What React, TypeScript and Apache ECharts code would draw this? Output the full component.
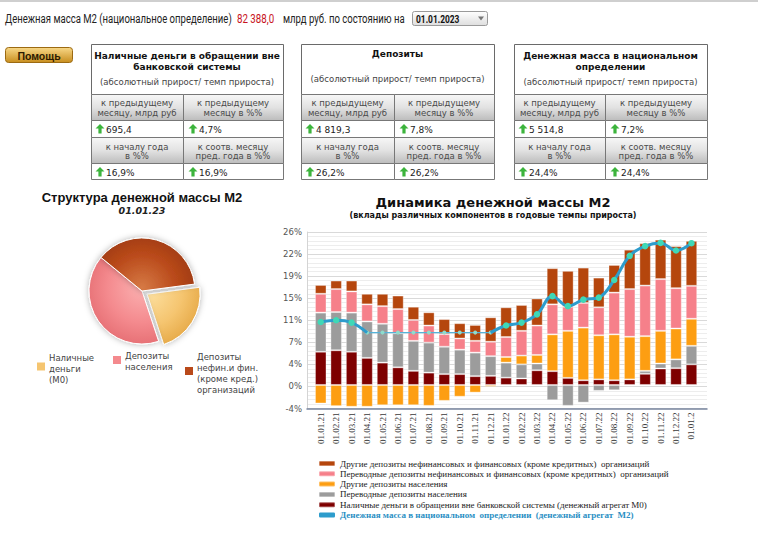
import React, { useEffect, useRef } from 'react';
import * as echarts from 'echarts';

// ---------- DATA ----------
const categories = ['01.01.21','01.02.21','01.03.21','01.04.21','01.05.21','01.06.21','01.07.21','01.08.21','01.09.21','01.10.21','01.11.21','01.12.21','01.01.22','01.02.22','01.03.22','01.04.22','01.05.22','01.06.22','01.07.22','01.08.22','01.09.22','01.10.22','01.11.22','01.12.22','01.01.2'];
const cashM0 = [5.65,5.9,5.65,4.6,3.8,3.0,2.4,2.1,1.85,1.85,1.5,1.55,1.25,1.1,2.5,2.35,1.2,0.8,0.95,0.8,0.95,1.9,2.8,2.85,3.5];
const transferHouseholds = [6.65,6.5,6.65,6.2,6.6,5.8,5.1,5.1,4.65,4.15,4.0,3.35,2.55,2.4,1.15,-2.6,-3.55,-3.0,-1.0,-0.9,0,0.5,0.85,1.5,3.15];
const otherHouseholds = [-3.15,-3.6,-3.7,-3.7,-3.45,-3.45,-3.45,-3.55,-2.7,-2.0,-1.3,-0.3,0.95,1.5,1.45,6.25,8.0,8.95,7.5,7.8,7.25,5.9,5.55,5.25,4.6];
const transferCorporate = [3.2,3.9,3.6,2.9,3.0,4.1,3.55,2.9,2.15,1.9,2.0,2.45,3.4,4.2,5.0,5.1,4.1,4.2,4.75,7.1,8.1,8.6,8.8,6.85,5.6];
const otherCorporate = [1.5,1.45,1.85,1.8,2.1,2.3,2.25,2.25,2.55,2.6,2.7,4.15,5.05,4.4,4.6,6.15,6.1,6.0,5.05,4.7,6.7,7.2,6.7,7.15,7.65];
const moneyM2 = [10.7,11.0,10.6,8.9,8.9,8.9,8.9,8.9,8.9,8.9,8.9,8.9,10.1,10.6,12.0,15.1,13.4,14.5,14.85,17.85,21.95,23.6,24.15,22.85,24.1];

const seriesNames = [
  'Другие депозиты нефинансовых и финансовых (кроме кредитных)  организаций',
  'Переводные депозиты нефинансовых и финансовых (кроме кредитных)  организаций',
  'Другие депозиты населения',
  'Переводные депозиты населения',
  'Наличные деньги в обращении вне банковской системы (денежный агрегат М0)',
  'Денежная масса в национальном  определении  (денежный агрегат  М2)',
];

const pieNames = ['Наличные деньги (М0)', 'Депозиты населения', 'Депозиты нефин.и фин. (кроме кред.) организаций'];
const pieValues = [22, 41, 37];
const pieLegendLines = [['Наличные', 'деньги', '(М0)'], ['Депозиты', 'населения'], ['Депозиты', 'нефин.и фин.', '(кроме кред.)', 'организаций']];

const tableTitles = [['Наличные деньги в обращении вне', 'банковской системы'], ['Депозиты'], ['Денежная масса в национальном', 'определении']];
const tableValues = [['695,4', '4,7%', '16,9%', '16,9%'], ['4 819,3', '7,8%', '26,2%', '26,2%'], ['5 514,8', '7,2%', '24,4%', '24,4%']];
const tableSubtitle = '(абсолютный прирост/ темп прироста)';
const tableHeads = [[['к предыдущему', 'месяцу, млрд руб'], ['к предыдущему', 'месяцу в %%']], [['к началу года', 'в %%'], ['к соотв. месяцу', 'пред. года в %%']]];

const headerTitle = 'Денежная масса М2 (национальное определение)';
const headerValue = '82 388,0';
const headerUnit = 'млрд руб. по состоянию на';
const headerDate = '01.01.2023';
const pieDate = '01.01.23';

// ---------- LAYOUT ----------
const tableBoxes = [[91, 183, 283], [301, 394, 494], [514, 605, 707]];
const pieColors = ['#f5c570', '#f48a8e', '#b9491a'];
const pieLight = ['#fde2a4', '#fbb0b0', '#d67a45'];
const pieDark = ['#e6a947', '#e66f74', '#9c3a12'];
const pieLegendPos = [[37, 366.5, 49, 358], [113, 360, 125, 356], [185, 371, 197, 357]];
const barColors = ['#b5460d', '#f6808a', '#fd9e12', '#9c9c9c', '#7e0000'];

const SANS = '"DejaVu Sans"';
const HEAD = 'Roboto';

function txt(text: string, x: number, y: number, font: string, fill: string, align = 'left', scaleX = 1) {
  return { type: 'text', x, y, scaleX, silent: true, style: { text, font, fill, textAlign: align, textVerticalAlign: 'middle' } };
}

function arrow(cx: number, cy: number) {
  return {
    type: 'polygon', silent: true,
    shape: { points: [[cx, cy - 5], [cx + 4.5, cy - 0.5], [cx + 1.6, cy - 0.5], [cx + 1.6, cy + 4.5], [cx - 1.6, cy + 4.5], [cx - 1.6, cy - 0.5], [cx - 4.5, cy - 0.5]] },
    style: { fill: '#3cb43c' },
  };
}

function buildTable(ti: number) {
  const [x0, xs, x1] = tableBoxes[ti];
  const els: any[] = [];
  const grad = () => new echarts.graphic.LinearGradient(0, 0, 0, 1, [
    { offset: 0, color: '#f7f7f7' }, { offset: 0.5, color: '#e2e2e2' }, { offset: 1, color: '#bcbcbc' },
  ]);
  els.push({ type: 'rect', silent: true, shape: { x: x0 + 0.5, y: 44.5, width: x1 - x0, height: 50 }, style: { fill: '#fff', stroke: '#6a6a6a', lineWidth: 1 } });
  const rows: [number, number, boolean][] = [[94.5, 26, true], [120.5, 17, false], [137.5, 26, true], [163.5, 16, false]];
  rows.forEach(([y, h, isHead]) => {
    [[x0, xs], [xs, x1]].forEach(([a, b]) => {
      els.push({ type: 'rect', silent: true, shape: { x: a + 0.5, y, width: b - a, height: h }, style: { fill: isHead ? grad() : '#fff', stroke: '#777', lineWidth: 1 } });
    });
  });
  const cx = (x0 + x1) / 2;
  const lines = tableTitles[ti];
  const titleY = lines.length === 2 ? [55.5, 66.5] : [54];
  lines.forEach((l, i) => els.push(txt(l, cx, titleY[i], `bold 9px ${SANS}`, '#111', 'center')));
  els.push(txt(tableSubtitle, cx, lines.length === 2 ? 82 : 79, `8.5px ${SANS}`, '#444', 'center'));
  const headY = [[103, 112.5], [146.5, 155.5]];
  tableHeads.forEach((pair, r) => {
    pair.forEach((cell, c) => {
      const ccx = c === 0 ? (x0 + xs) / 2 : (xs + x1) / 2;
      cell.forEach((l, k) => els.push(txt(l, ccx, headY[r][k], `8.5px ${SANS}`, '#4a4a4a', 'center')));
    });
  });
  const valY = [129, 172];
  tableValues[ti].forEach((v, k) => {
    const r = Math.floor(k / 2), c = k % 2;
    const ax = c === 0 ? x0 + 9 : xs + 10;
    els.push(arrow(ax, valY[r]));
    els.push(txt(v, ax + 6, valY[r] + 0.5, `9px ${SANS}`, '#222'));
  });
  return els;
}

export default function App() {
  const ref = useRef<HTMLDivElement>(null);
  useEffect(() => {
    if (!ref.current) return;
    const chart = echarts.init(ref.current, null, { renderer: 'svg' });

    const g: any[] = [];
    g.push({ type: 'line', silent: true, shape: { x1: 0, y1: 1, x2: 758, y2: 1 }, style: { stroke: '#cfcfcf', lineWidth: 2 } });
    // header
    g.push(txt(headerTitle, 5, 18.5, `13px ${HEAD}`, '#222', 'left', 0.735));
    g.push(txt(headerValue, 237, 18.5, `13px ${HEAD}`, '#c8141e', 'left', 0.75));
    g.push(txt(headerUnit, 283, 18.5, `13px ${HEAD}`, '#222', 'left', 0.735));
    g.push({ type: 'rect', silent: true, shape: { x: 412.5, y: 11.5, width: 75, height: 14, r: 2 }, style: { fill: new echarts.graphic.LinearGradient(0, 0, 0, 1, [{ offset: 0, color: '#ffffff' }, { offset: 1, color: '#dedede' }]), stroke: '#9a9a9a', lineWidth: 1 } });
    g.push(txt(headerDate, 416, 19, `bold 10.5px ${HEAD}`, '#111', 'left', 0.8));
    g.push({ type: 'polygon', silent: true, shape: { points: [[478, 16.5], [484, 16.5], [481, 20.5]] }, style: { fill: '#777' } });
    // help button
    g.push({ type: 'rect', silent: true, shape: { x: 5.5, y: 47.5, width: 67, height: 15, r: 3 }, style: { fill: new echarts.graphic.LinearGradient(0, 0, 0, 1, [{ offset: 0, color: '#f8d888' }, { offset: 1, color: '#c88e1e' }]), stroke: '#9c6a12', lineWidth: 1 } });
    g.push(txt('Помощь', 39, 55.5, 'bold 10.5px "Liberation Sans"', '#2b1a00', 'center'));
    // tables
    for (let i = 0; i < 3; i++) g.push(...buildTable(i));
    // pie titles
    g.push(txt('Структура денежной массы М2', 142, 197, 'bold 13px "Liberation Sans"', '#111', 'center'));
    g.push(txt(pieDate, 142, 210, `italic bold 9.5px ${SANS}`, '#222', 'center'));
    // pie legend
    pieLegendLines.forEach((ls, i) => {
      const [sx, sy, tx, ty] = pieLegendPos[i];
      g.push({ type: 'rect', silent: true, shape: { x: sx, y: sy - 4, width: 8, height: 8 }, style: { fill: pieColors[i] } });
      ls.forEach((l, k) => g.push(txt(l, tx, ty + k * 11, `8.5px ${SANS}`, '#444')));
    });
    // bar chart titles
    g.push(txt('Динамика денежной массы М2', 493, 202, `bold 13px ${SANS}`, '#111', 'center'));
    g.push(txt('(вклады различных компонентов в годовые темпы прироста)', 493, 215, `bold 8px ${SANS}`, '#111', 'center'));

    const stackOrder = [
      { name: seriesNames[4], data: cashM0, color: barColors[4] },
      { name: seriesNames[3], data: transferHouseholds, color: barColors[3] },
      { name: seriesNames[2], data: otherHouseholds, color: barColors[2] },
      { name: seriesNames[1], data: transferCorporate, color: barColors[1] },
      { name: seriesNames[0], data: otherCorporate, color: barColors[0] },
    ];
    const barSeries = stackOrder.map((s) => ({
      type: 'bar', name: s.name, stack: 'm2', barWidth: 11.5, xAxisIndex: 1, yAxisIndex: 1,
      data: s.data,
      itemStyle: { color: s.color, borderColor: 'rgba(255,255,255,0.35)', borderWidth: 1 },
    }));

    const thinFrom = 3, thinTo = 11;
    const thickData = moneyM2.map((v, i) => {
      if (i > thinFrom && i < thinTo) return '-';
      if (i === thinFrom || i === thinTo) return { value: v, symbol: 'none' };
      return v;
    });
    const thinData = moneyM2.map((v, i) => (i >= thinFrom && i <= thinTo ? v : '-'));

    const pieData = pieNames.map((n, i) => ({
      name: n, value: pieValues[i], selected: i === 0,
      itemStyle: {
        color: new echarts.graphic.RadialGradient(142, 288, 58, [
          { offset: 0, color: pieLight[i] }, { offset: 0.6, color: pieColors[i] }, { offset: 1, color: pieDark[i] },
        ], true),
      },
    }));

    chart.setOption({
      animation: false,
      textStyle: { fontFamily: 'DejaVu Sans' },
      graphic: { elements: g },
      grid: [
        { left: 307, right: 51, top: 232, bottom: 139.5 },
        { left: 313, right: 58.8, top: 232, bottom: 139.5 },
      ],
      xAxis: [
        {
          gridIndex: 0, type: 'value', min: 0, max: 1,
          axisLine: { show: true, onZero: false, lineStyle: { color: '#7a86a0', width: 1.5 } },
          axisTick: { show: false }, axisLabel: { show: false }, splitLine: { show: false },
        },
        {
          gridIndex: 1, type: 'category', data: categories,
          axisLine: { show: false }, axisTick: { show: false }, splitLine: { show: false },
          axisLabel: { interval: 0, rotate: 90, fontFamily: 'Liberation Serif', fontSize: 9, color: '#3a3a3a', margin: 4 },
        },
      ],
      yAxis: [
        {
          gridIndex: 0, type: 'value', min: -4, max: 26, interval: 3.75,
          axisLine: { show: true, onZero: false, lineStyle: { color: '#d4d4d4' } },
          axisTick: { show: false },
          axisLabel: { formatter: (v: number) => Math.round(v) + '%', fontSize: 8.5, color: '#555', margin: 5, fontFamily: 'DejaVu Sans' },
          splitLine: { lineStyle: { color: '#d9d9d9' } },
          minorTick: { show: false, splitNumber: 5 },
          minorSplitLine: { show: true, lineStyle: { color: '#ededed' } },
        },
        { gridIndex: 1, type: 'value', min: -4, max: 26, show: false, splitLine: { show: false } },
      ],
      legend: {
        orient: 'vertical', left: 313, top: 453.5, itemWidth: 16, itemHeight: 5, itemGap: 0.3,
        icon: 'roundRect', selectedMode: false,
        textStyle: { fontFamily: 'Liberation Serif', fontSize: 9, color: '#222', lineHeight: 10 },
        data: [
          { name: seriesNames[0] }, { name: seriesNames[1] }, { name: seriesNames[2] }, { name: seriesNames[3] }, { name: seriesNames[4] },
          { name: seriesNames[5], itemStyle: { color: '#2d9ccc' }, textStyle: { color: '#2a8fc4', fontWeight: 'bold' } },
        ],
      },
      series: [
        ...barSeries,
        {
          type: 'line', name: seriesNames[5], data: thickData, smooth: 0.4, connectNulls: false, xAxisIndex: 1, yAxisIndex: 1,
          symbol: 'circle', symbolSize: 6.5, z: 5,
          lineStyle: { color: '#2d9ccc', width: 3 },
          itemStyle: { color: '#3fd8b6' },
        },
        {
          type: 'line', name: seriesNames[5] + ' ', data: thinData, smooth: 0.4, xAxisIndex: 1, yAxisIndex: 1,
          symbol: 'circle', symbolSize: 4, z: 4,
          lineStyle: { color: '#56b2d8', width: 1.3 },
          itemStyle: { color: '#8fdccb' },
        },
        {
          type: 'pie', center: [142, 291], radius: 53, startAngle: 7.5, clockwise: true,
          selectedMode: 'single', selectedOffset: 6,
          label: { show: false }, labelLine: { show: false },
          itemStyle: { borderColor: '#ffffff', borderWidth: 1, shadowBlur: 6, shadowColor: 'rgba(0,0,0,0.3)' },
          emphasis: { disabled: true },
          data: pieData,
        },
      ],
    });
    return () => chart.dispose();
  }, []);
  return <div ref={ref} style={{ position: 'fixed', left: 0, top: 0, width: 758, height: 548, background: '#fff' }} />;
}
